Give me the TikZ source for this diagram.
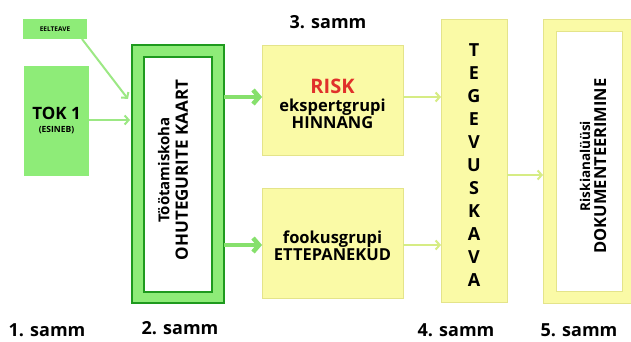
\documentclass[tikz,border=0pt]{standalone}
\usepackage{fontspec}
\setmainfont{Open Sans}
\usetikzlibrary{arrows.meta,calc}
\definecolor{gfill}{HTML}{8EEC78}
\definecolor{gdark}{HTML}{1E9A1E}
\definecolor{garrow}{HTML}{9CE884}
\definecolor{gthick}{HTML}{86E06C}
\definecolor{yfill}{HTML}{FAFAA6}
\definecolor{yedge}{HTML}{E4E48A}
\definecolor{yarrow}{HTML}{D6EC84}
\definecolor{riskred}{HTML}{E0302A}
\begin{document}
\begin{tikzpicture}[x=1pt,y=-1pt,
  every node/.style={inner sep=0pt, outer sep=0pt, font=\bfseries},
  gbox/.style={fill=gfill, draw=none},
  ybox/.style={fill=yfill, draw=yedge, line width=0.8pt},
  gframe/.style={fill=gfill, draw=gdark, line width=2pt},
  gin/.style={fill=white, draw=gdark, line width=2pt},
  yin/.style={fill=white, draw=yedge, line width=1pt},
  thinG/.style={draw=garrow, line width=2pt, -{Straight Barb[length=4pt,width=9pt,line width=2pt]}},
  thickG/.style={draw=gthick, line width=4.5pt, -{Straight Barb[length=6pt,width=14pt,line width=4.5pt]}},
  thinY/.style={draw=yarrow, line width=2pt, -{Straight Barb[length=4pt,width=9pt,line width=2pt]}},
  steplabel/.style={font=\fontsize{18}{20}\selectfont\bfseries}
]
\useasboundingbox (0,0) rectangle (631,342);
\fill[white] (0,0) rectangle (631,342);

% step 1
\node[gbox, minimum width=64, minimum height=20, font=\fontsize{6.5}{7}\selectfont\bfseries] (eel) at (55,29) {EELTEAVE};
\node[gbox, minimum width=65, minimum height=110, align=center] (tok) at (56.5,121)
  {{\fontsize{17}{19}\selectfont TOK 1}\\[1pt]{\fontsize{8.5}{10}\selectfont (ESINEB)}};

% step 2 frame
\node[gframe, minimum width=92, minimum height=258] (frame) at (178,174) {};
\node[gin, minimum width=68, minimum height=235] (frin) at (178,174.5) {};
\node[rotate=90, align=center] (frtext) at (173,170)
  {{\fontsize{15}{17}\selectfont Töötamiskoha}\\[5pt]{\fontsize{17}{19}\selectfont OHUTEGURITE KAART}};

% step 3
\node[ybox, minimum width=141, minimum height=110, align=center] (risk) at (332.5,100) {};
\node[align=center] (risktext) at (332.5,104)
  {{\fontsize{20}{22}\selectfont\color{riskred}RISK}\\[4pt]{\fontsize{16.5}{19}\selectfont ekspertgrupi}\\{\fontsize{16.5}{19}\selectfont HINNANG}};
\node[ybox, minimum width=141, minimum height=110, align=center] (fok) at (332.5,243) {};
\node[align=center] (foktext) at (332.5,246)
  {{\fontsize{16.5}{19}\selectfont fookusgrupi}\\{\fontsize{16.5}{19}\selectfont ETTEPANEKUD}};

% step 4
\node[ybox, minimum width=66, minimum height=283] (teg) at (474,160.5) {};
\node[align=center, font=\fontsize{18}{23}\selectfont\bfseries] (tegtext) at (474,165)
  {T\\E\\G\\E\\V\\U\\S\\K\\A\\V\\A};

% step 5
\node[ybox, minimum width=90, minimum height=284] (doc) at (588,161) {};
\node[yin, minimum width=66, minimum height=259] (docin) at (589,161.5) {};
\node[rotate=90, align=center] (doctext) at (593,166)
  {{\fontsize{13.5}{15}\selectfont Riskianalüüsi}\\[3pt]{\fontsize{16.5}{18}\selectfont DOKUMENTEERIMINE}};

% labels
\node[steplabel] (s1) at (47,330) {1. samm};
\node[steplabel] (s2) at (180,328) {2. samm};
\node[steplabel] (s3) at (328,22) {3. samm};
\node[steplabel] (s4) at (456,330) {4. samm};
\node[steplabel] (s5) at (579,330) {5. samm};

% connectors
\coordinate (eelend) at ($(frame.west)+(-4,-75)$);
\draw[thinG] ($(eel.south east)+(-5,0)$) -- (eelend);
\draw[thinG] (tok.east |- 0,120) -- ($(frame.west |- 0,120)+(-2,0)$);
\draw[thickG] (frame.east |- 0,97) -- (risk.west |- 0,97);
\draw[thickG] (frame.east |- 0,245) -- (fok.west |- 0,245);
\draw[thinY] (risk.east |- 0,97) -- (teg.west |- 0,97);
\draw[thinY] (fok.east |- 0,245) -- (teg.west |- 0,245);
\draw[thinY] (teg.east |- 0,175) -- (doc.west |- 0,175);
\end{tikzpicture}
\end{document}
